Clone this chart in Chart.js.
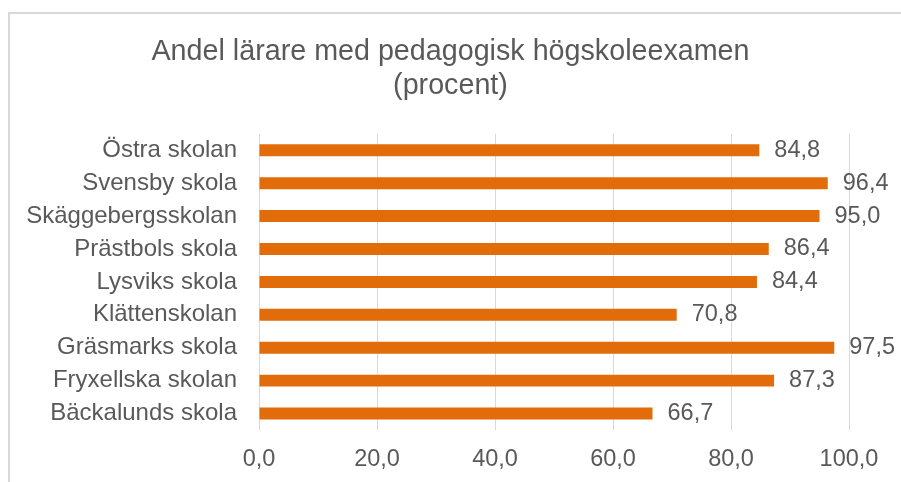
<!DOCTYPE html>
<html>
<head>
<meta charset="utf-8">
<script src="https://cdn.jsdelivr.net/npm/chart.js@4"></script>
<style>
  html, body { margin: 0; padding: 0; background: #fff; }
  #wrap { width: 901px; height: 482px; }
</style>
</head>
<body>
<div id="wrap"><canvas id="barChart" width="901" height="482"></canvas></div>
<script>
const schools = ['Östra skolan', 'Svensby skola', 'Skäggebergsskolan', 'Prästbols skola', 'Lysviks skola',
    'Klättenskolan', 'Gräsmarks skola', 'Fryxellska skolan', 'Bäckalunds skola'];
const shares = [84.8, 96.4, 95.0, 86.4, 84.4, 70.8, 97.5, 87.3, 66.7];
const titleLines = ['Andel lärare med pedagogisk högskoleexamen', '(procent)'];

const textColor = '#595959';
const barColor = '#E36C0A';
const fontFamily = '"Liberation Sans", Arial, sans-serif';

function commaNum(v) {
    return Number(v).toFixed(1).replace('.', ',');
}

// grey frame around the chart (cut off at right and bottom like the original)
const framePlugin = {
    id: 'frame',
    beforeDraw(chart) {
        const c = chart.ctx;
        c.save();
        c.fillStyle = '#fff';
        c.fillRect(0, 0, chart.width, chart.height);
        c.strokeStyle = '#d9d9d9';
        c.lineWidth = 2;
        c.strokeRect(9, 13, chart.width + 20, chart.height + 20);
        c.restore();
    }
};

// value labels at bar ends
const valueLabels = {
    id: 'valueLabels',
    afterDatasetsDraw(chart) {
        const c = chart.ctx;
        const meta = chart.getDatasetMeta(0);
        c.save();
        c.fillStyle = textColor;
        c.font = '23.5px ' + fontFamily;
        c.textBaseline = 'middle';
        c.textAlign = 'left';
        meta.data.forEach(function (bar, i) {
            c.fillText(commaNum(chart.data.datasets[0].data[i]), bar.x + 15, bar.y);
        });
        c.restore();
    }
};

const ctx = document.getElementById('barChart').getContext('2d');
const barChart = new Chart(ctx, {
    type: 'bar',
    data: {
        labels: schools,
        datasets: [{
            data: shares,
            backgroundColor: barColor,
            borderWidth: 0,
            barPercentage: 0.363,
            categoryPercentage: 1
        }]
    },
    options: {
        indexAxis: 'y',
        responsive: false,
        animation: false,
        layout: { padding: { left: 20, right: 20, top: 0, bottom: 0 } },
        plugins: {
            legend: { display: false },
            tooltip: { enabled: false },
            title: {
                display: true,
                text: titleLines,
                color: textColor,
                font: { family: fontFamily, size: 28.7, weight: 'normal', lineHeight: 1.19 },
                padding: { top: 35, bottom: 30.5 }
            }
        },
        scales: {
            x: {
                min: 0,
                max: 100,
                ticks: {
                    stepSize: 20,
                    color: textColor,
                    font: { family: fontFamily, size: 23.5 },
                    padding: 15,
                    callback: function (v) { return commaNum(v); }
                },
                grid: { color: '#d9d9d9', lineWidth: 1, drawTicks: false },
                border: { display: false },
                afterFit: function (scale) { scale.height = 52; }
            },
            y: {
                ticks: {
                    color: textColor,
                    font: { family: fontFamily, size: 24 },
                    padding: 22
                },
                grid: { display: false, drawTicks: false },
                border: { display: false },
                afterFit: function (scale) { scale.width = 239; }
            },
            // empty spacer on the right so the plot ends where the original does
            yRight: {
                type: 'category',
                position: 'right',
                ticks: { display: false },
                grid: { display: false, drawTicks: false },
                border: { display: false },
                afterFit: function (scale) { scale.width = 32; }
            }
        }
    },
    plugins: [framePlugin, valueLabels]
});
</script>
</body>
</html>
